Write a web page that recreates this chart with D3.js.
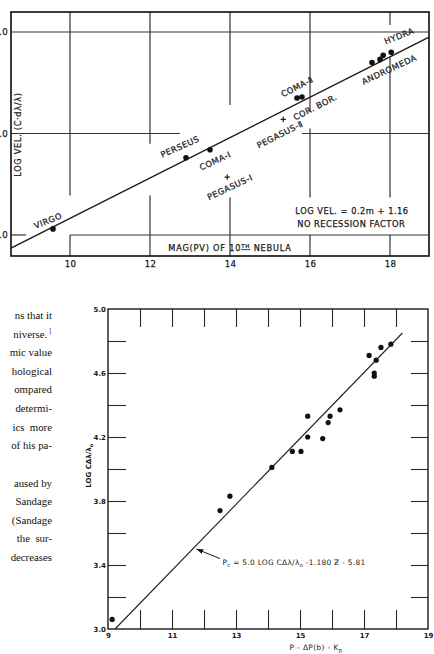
<!DOCTYPE html>
<html>
<head>
<meta charset="utf-8">
<script src="https://cdn.jsdelivr.net/npm/d3@7"></script>
<style>
  body { margin: 0; background: #fff; }
  svg { display: block; }
</style>
</head>
<body>
<script>
// ---- upper plot: cluster velocities vs magnitude of 10th nebula ----
var clusterMag    = [9.575, 12.9, 13.5, 15.675, 15.8, 17.55, 17.75, 17.83, 18.03];
var clusterLogVel = [3.06, 3.76, 3.84, 4.35, 4.36, 4.70, 4.73, 4.77, 4.80];
var crossMag    = [13.93, 15.33];
var crossLogVel = [3.57, 4.14];
var fitMag    = [8.525, 18.975];
var fitLogVel = [2.87, 4.95];
var magTicks = [10, 12, 14, 16, 18];
var velTicks = [3, 4, 5];
// grid pieces as drawn on the original (value, from, to)
var gridV = [[10, 5.2, 3.39], [10, 3.0, 2.79], [12, 5.2, 3.9], [12, 3.39, 2.79],
             [14, 5.2, 4.28], [14, 3.37, 2.79], [16, 5.2, 4.21], [16, 4.05, 3.37], [16, 3.0, 2.79],
             [18, 5.2, 5.07], [18, 4.75, 3.37], [18, 3.0, 2.79]];
var gridH = [[5, 8.525, 18.975], [4, 8.525, 12.75], [4, 15.8, 18.975], [3, 10, 18.975], [3, 8.525, 8.9]];
var clusterNames = [
  {t: 'VIRGO', m: 9.45, v: 3.14, a: -22},
  {t: 'PERSEUS', m: 12.75, v: 3.87, a: -24},
  {t: 'COMA-Ⅰ', m: 13.63, v: 3.73, a: -25},
  {t: 'PEGASUS-Ⅰ', m: 14.0, v: 3.47, a: -25},
  {t: 'PEGASUS-Ⅱ', m: 15.25, v: 3.99, a: -27},
  {t: 'COR. BOR.', m: 16.13, v: 4.26, a: -27},
  {t: 'COMA-Ⅱ', m: 15.68, v: 4.46, a: -27},
  {t: 'HYDRA', m: 18.23, v: 4.96, a: -22},
  {t: 'ANDROMEDA', m: 17.98, v: 4.63, a: -25}
];

// ---- lower plot ----
var pMag = [9.13, 12.5, 12.81, 14.12, 14.76, 15.03, 15.24, 15.24, 15.71, 15.88, 15.94, 16.25,
            17.16, 17.32, 17.32, 17.38, 17.53, 17.84];
var logCdl = [3.06, 3.74, 3.83, 4.01, 4.11, 4.11, 4.20, 4.33, 4.19, 4.29, 4.33, 4.37,
              4.71, 4.60, 4.58, 4.68, 4.76, 4.78];
var fitP   = [9.22, 18.2];
var fitCdl = [3.0, 4.85];
var pLabels = [9, 11, 13, 15, 17, 19];
var pTicks = [10, 11, 12, 13, 14, 15, 16, 17, 18];
var cdlLabels = [3.0, 3.4, 3.8, 4.2, 4.6, 5.0];
var cdlTicks = [3.2, 3.4, 3.6, 3.8, 4.0, 4.2, 4.4, 4.6, 4.8];

// ---- page text on the left, clipped by the crop ----
var bodyLines = ['ns that it', 'niverse.', 'mic value', 'hological', 'ompared', ' determi-',
                 'ics  more', 'of his pa-', '', 'aused by', ' Sandage', '(Sandage', ' the  sur-', 'decreases'];

var W = 434, H = 654;
var ink = '#1a1a1a';
var svg = d3.select('body').append('svg').attr('width', W).attr('height', H);

// ================= upper plot =================
var x1 = d3.scaleLinear().domain([8.525, 18.975]).range([11, 429]);
var y1 = d3.scaleLinear().domain([2.793, 5.197]).range([256, 12]);
var upper = svg.append('g');

upper.selectAll('line.gv').data(gridV).enter().append('line')
  .attr('x1', function(d) { return x1(d[0]); }).attr('x2', function(d) { return x1(d[0]); })
  .attr('y1', function(d) { return y1(d[1]); }).attr('y2', function(d) { return y1(d[2]); })
  .attr('stroke', '#333').attr('stroke-width', 1.2);
upper.selectAll('line.gh').data(gridH).enter().append('line')
  .attr('y1', function(d) { return y1(d[0]); }).attr('y2', function(d) { return y1(d[0]); })
  .attr('x1', function(d) { return x1(d[1]); }).attr('x2', function(d) { return x1(d[2]); })
  .attr('stroke', '#333').attr('stroke-width', 1.2);

upper.append('rect')
  .attr('x', x1.range()[0]).attr('y', y1.range()[1])
  .attr('width', x1.range()[1] - x1.range()[0]).attr('height', y1.range()[0] - y1.range()[1])
  .attr('fill', 'none').attr('stroke', ink).attr('stroke-width', 1.7);

upper.append('line')
  .attr('x1', x1(fitMag[0])).attr('y1', y1(fitLogVel[0]))
  .attr('x2', x1(fitMag[1])).attr('y2', y1(fitLogVel[1]))
  .attr('stroke', ink).attr('stroke-width', 1.4);

upper.selectAll('circle').data(clusterMag).enter().append('circle')
  .attr('cx', function(d) { return x1(d); })
  .attr('cy', function(d, i) { return y1(clusterLogVel[i]); })
  .attr('r', 2.8).attr('fill', '#111');

crossMag.forEach(function(m, i) {
  var cx = x1(m), cy = y1(crossLogVel[i]);
  upper.append('path')
    .attr('d', 'M' + (cx - 2.6) + ',' + cy + 'H' + (cx + 2.6) + 'M' + cx + ',' + (cy - 2.6) + 'V' + (cy + 2.6))
    .attr('stroke', ink).attr('stroke-width', 1.2);
});

function lettering(sel, size, spacing) {
  sel.style('font-family', 'DejaVu Sans').style('font-size', size + 'px')
    .style('letter-spacing', spacing + 'px')
    .attr('fill', ink).attr('stroke', ink).attr('stroke-width', 0.25);
}

var names = upper.selectAll('text.name').data(clusterNames).enter().append('text')
  .attr('class', 'name')
  .attr('transform', function(d) { return 'translate(' + x1(d.m) + ',' + y1(d.v) + ') rotate(' + d.a + ')'; })
  .attr('text-anchor', 'middle').attr('dy', '0.35em')
  .text(function(d) { return d.t; });
lettering(names, 8.3, 0.5);

var eqn = upper.append('g').attr('text-anchor', 'middle');
lettering(eqn, 8.3, 0.5);
eqn.append('text').attr('x', x1(17.05)).attr('y', y1(3.24)).attr('dy', '0.35em').text('LOG  VEL. = 0.2m + 1.16');
eqn.append('text').attr('x', x1(17.03)).attr('y', y1(3.11)).attr('dy', '0.35em').text('NO RECESSION FACTOR');

var xt = upper.append('text')
  .attr('x', x1(14)).attr('y', y1(2.87)).attr('dy', '0.35em').attr('text-anchor', 'middle');
lettering(xt, 8.2, 0.8);
xt.append('tspan').text('MAG(PV) OF 10');
xt.append('tspan').attr('dy', '-2.6').style('font-size', '5.4px').style('text-decoration', 'underline').text('TH');
xt.append('tspan').attr('dy', '2.6').text(' NEBULA');

var yt = upper.append('text')
  .attr('transform', 'translate(18,' + y1(3.99) + ') rotate(-90)')
  .attr('text-anchor', 'middle').attr('dy', '0.35em')
  .text('LOG  VEL. (C·dλ/λ)');
lettering(yt, 8.2, 0.7);

var ax1 = upper.append('g').attr('transform', 'translate(0,256)')
  .call(d3.axisBottom(x1).tickValues(magTicks).tickSize(0).tickPadding(5).tickFormat(d3.format('d')));
var ay1 = upper.append('g').attr('transform', 'translate(11,0)')
  .call(d3.axisLeft(y1).tickValues(velTicks).tickSize(0).tickPadding(3).tickFormat(d3.format('.1f')));
[ax1, ay1].forEach(function(g) {
  g.select('.domain').remove();
  lettering(g.selectAll('text'), 8.6, 0.3);
});

// ================= lower plot =================
var x2 = d3.scaleLinear().domain([9, 19]).range([108, 428]);
var y2 = d3.scaleLinear().domain([3, 5]).range([629, 309]);
var bot = svg.append('g');

var tickAxes = [
  bot.append('g').attr('transform', 'translate(108,0)').call(d3.axisLeft(y2).tickValues(cdlTicks).tickSize(-18).tickFormat('')),
  bot.append('g').attr('transform', 'translate(428,0)').call(d3.axisRight(y2).tickValues(cdlTicks).tickSize(-17).tickFormat('')),
  bot.append('g').attr('transform', 'translate(0,309)').call(d3.axisTop(x2).tickValues(pTicks).tickSize(-18).tickFormat('')),
  bot.append('g').attr('transform', 'translate(0,629)').call(d3.axisBottom(x2).tickValues(pTicks).tickSize(-19).tickFormat(''))
];
tickAxes.forEach(function(g) {
  g.select('.domain').remove();
  g.selectAll('line').attr('stroke', '#2a2a2a').attr('stroke-width', 1.1);
});

bot.append('rect')
  .attr('x', 108).attr('y', 309).attr('width', 320).attr('height', 320)
  .attr('fill', 'none').attr('stroke', ink).attr('stroke-width', 1.4);

var lab2 = [
  bot.append('g').attr('transform', 'translate(108,0)').call(d3.axisLeft(y2).tickValues(cdlLabels).tickSize(0).tickPadding(2).tickFormat(d3.format('.1f'))),
  bot.append('g').attr('transform', 'translate(0,629)').call(d3.axisBottom(x2).tickValues(pLabels).tickSize(0).tickPadding(4).tickFormat(d3.format('d')))
];
lab2.forEach(function(g) {
  g.select('.domain').remove();
  g.selectAll('text').style('font-family', 'DejaVu Sans').style('font-size', '7px').style('font-weight', 'bold').attr('fill', ink);
});

bot.append('line')
  .attr('x1', x2(fitP[0])).attr('y1', y2(fitCdl[0]))
  .attr('x2', x2(fitP[1])).attr('y2', y2(fitCdl[1]))
  .attr('stroke', '#222').attr('stroke-width', 1.1);

bot.selectAll('circle').data(pMag).enter().append('circle')
  .attr('cx', function(d) { return x2(d); })
  .attr('cy', function(d, i) { return y2(logCdl[i]); })
  .attr('r', 2.6).attr('fill', '#111');

svg.append('defs').append('marker')
  .attr('id', 'ah').attr('viewBox', '0 0 10 10').attr('refX', 10).attr('refY', 5)
  .attr('markerWidth', 7).attr('markerHeight', 7).attr('orient', 'auto')
  .append('path').attr('d', 'M0,1.5L10,5L0,8.5Z').attr('fill', ink);
bot.append('line')
  .attr('x1', x2(12.5)).attr('y1', y2(3.44))
  .attr('x2', x2(11.76)).attr('y2', y2(3.5))
  .attr('stroke', ink).attr('stroke-width', 1).attr('marker-end', 'url(#ah)');

var eq2 = bot.append('text')
  .attr('x', x2(12.58)).attr('y', y2(3.397))
  .style('font-family', 'DejaVu Sans').style('font-size', '7.4px').style('letter-spacing', '0.3px')
  .attr('fill', ink);
eq2.append('tspan').text('P');
eq2.append('tspan').attr('dy', '1.8').style('font-size', '5.4px').text('c');
eq2.append('tspan').attr('dy', '-1.8').text(' = 5.0 LOG CΔλ/λ');
eq2.append('tspan').attr('dy', '1.8').style('font-size', '5.4px').text('o');
eq2.append('tspan').attr('dy', '-1.8').text(' -1.180 Ƶ - 5.81');

var xl2 = bot.append('text')
  .attr('x', x2(15.5)).attr('y', 650).attr('text-anchor', 'middle')
  .style('font-family', 'DejaVu Sans').style('font-size', '7.4px').style('letter-spacing', '0.4px')
  .attr('fill', ink);
xl2.append('tspan').text('P - ΔP(b) - K');
xl2.append('tspan').attr('dy', '1.8').style('font-size', '5.4px').text('p');

var yl2 = bot.append('text')
  .attr('transform', 'translate(89,' + y2(4.02) + ') rotate(-90)')
  .attr('text-anchor', 'middle').attr('dy', '0.35em')
  .style('font-family', 'DejaVu Sans').style('font-size', '7px').style('font-weight', 'bold')
  .attr('fill', ink);
yl2.append('tspan').text('LOG CΔλ/λ');
yl2.append('tspan').attr('dy', '1.8').style('font-size', '5px').text('o');

// ================= page text =================
var txt = svg.append('g')
  .style('font-family', 'Liberation Serif').style('font-size', '10.8px')
  .attr('fill', '#111').attr('text-anchor', 'end');
bodyLines.forEach(function(s, i) {
  if (!s) return;
  var t = txt.append('text').attr('x', 52).attr('y', 319 + i * 18.62).attr('xml:space', 'preserve');
  t.append('tspan').text(s);
  if (i === 1) {
    t.append('tspan').attr('dx', '1').attr('dy', '-4').style('font-size', '7.5px').attr('fill', '#3b3bd8').text('1');
  }
});
</script>
</body>
</html>
